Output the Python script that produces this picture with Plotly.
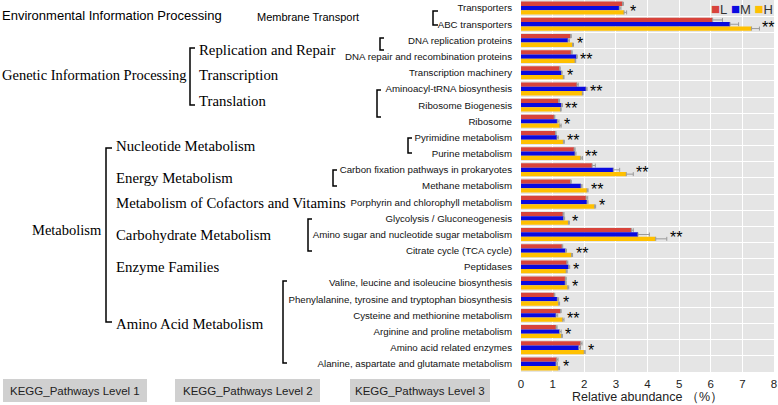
import plotly.graph_objects as go

categories = [
    "Transporters", "ABC transporters", "DNA replication proteins",
    "DNA repair and recombination proteins", "Transcription machinery",
    "Aminoacyl-tRNA biosynthesis", "Ribosome Biogenesis", "Ribosome",
    "Pyrimidine metabolism", "Purine metabolism",
    "Carbon fixation pathways in prokaryotes", "Methane metabolism",
    "Porphyrin and chlorophyll metabolism", "Glycolysis / Gluconeogenesis",
    "Amino sugar and nucleotide sugar metabolism", "Citrate cycle (TCA cycle)",
    "Peptidases", "Valine, leucine and isoleucine biosynthesis",
    "Phenylalanine, tyrosine and tryptophan biosynthesis",
    "Cysteine and methionine metabolism", "Arginine and proline metabolism",
    "Amino acid related enzymes", "Alanine, aspartate and glutamate metabolism",
]
L_vals = [3.21, 6.06, 1.57, 1.59, 1.22, 1.77, 1.19, 1.05, 1.09, 1.68, 2.25, 1.57,
          2.06, 1.33, 3.49, 1.30, 1.45, 1.40, 1.05, 1.25, 1.11, 1.89, 1.13]
M_vals = [3.11, 6.61, 1.49, 1.76, 1.28, 2.06, 1.28, 1.15, 1.14, 1.71, 2.92, 1.90,
          2.09, 1.35, 3.70, 1.41, 1.51, 1.40, 1.15, 1.11, 1.22, 1.83, 1.11]
H_vals = [3.26, 7.29, 1.63, 1.71, 1.34, 1.94, 1.25, 1.23, 1.34, 1.89, 3.33, 2.09,
          2.33, 1.50, 4.26, 1.60, 1.43, 1.48, 1.19, 1.32, 1.28, 2.00, 1.18]
L_err = [0.03, 0.31, 0.02, 0.03, 0.02, 0.04, 0.03, 0.02, 0.02, 0.03, 0.10, 0.02,
         0.05, 0.03, 0.06, 0.02, 0.03, 0.03, 0.02, 0.02, 0.03, 0.04, 0.04]
M_err = [0.05, 0.27, 0.04, 0.02, 0.02, 0.03, 0.03, 0.05, 0.04, 0.03, 0.20, 0.03,
         0.03, 0.03, 0.36, 0.03, 0.03, 0.03, 0.04, 0.05, 0.05, 0.05, 0.04]
H_err = [0.08, 0.25, 0.03, 0.02, 0.02, 0.02, 0.02, 0.04, 0.03, 0.05, 0.22, 0.03,
         0.03, 0.03, 0.35, 0.03, 0.03, 0.03, 0.03, 0.04, 0.03, 0.03, 0.04]
signif = ["*", "**", "*", "**", "*", "**", "**", "*", "**", "**", "**", "**",
          "*", "*", "**", "**", "*", "*", "*", "**", "*", "*", "*"]
x_ticks = [0, 1, 2, 3, 4, 5, 6, 7, 8]
series_names = ["L", "M", "H"]

level1 = [("Environmental Information Processing", 16, "sans"),
          ("Genetic Information Processing", 75, "serif"),
          ("Metabolism", 230, "serif")]
level2 = [("Replication and Repair", 50), ("Transcription", 75), ("Translation", 101),
          ("Nucleotide Metabolism", 146), ("Energy Metabolism", 178),
          ("Metabolism of Cofactors and Vitamins", 203), ("Carbohydrate Metabolism", 235),
          ("Enzyme Families", 267), ("Amino Acid Metabolism", 324)]
bottom_labels = ["KEGG_Pathways Level 1", "KEGG_Pathways Level 2", "KEGG_Pathways Level 3"]

colors = {"L": "#D8433B", "M": "#0A0AE0", "H": "#FFC000"}

PL, PR, PT, PB = 521, 774, 0, 372


def px(x):
    return (x - PL) / (PR - PL)


def py(y):
    return 1 - (y - PT) / (PB - PT)


fig = go.Figure()
for name, vals, errs in zip(series_names, [L_vals, M_vals, H_vals], [L_err, M_err, H_err]):
    fig.add_trace(go.Bar(
        y=categories, x=vals, name=name, orientation="h",
        marker=dict(color=colors[name], line=dict(width=0)),
        error_x=dict(type="data", array=errs, arrayminus=[0] * len(errs), symmetric=False,
                     color="#9a9a9a", thickness=1, width=2),
    ))

for i, c in enumerate(categories):
    end = max(L_vals[i] + L_err[i], M_vals[i] + M_err[i], H_vals[i] + H_err[i])
    fig.add_annotation(x=end, y=c, text=signif[i], showarrow=False, xanchor="left",
                       xshift=1, yshift=-3, font=dict(size=16, color="black", family="Liberation Sans"))

n = len(categories)
fig.update_layout(
    width=778, height=405,
    margin=dict(l=PL, r=778 - PR, t=PT, b=405 - PB),
    paper_bgcolor="white", plot_bgcolor="#E5E5E5",
    barmode="group", bargap=0.2, bargroupgap=0,
    font=dict(family="Liberation Sans", color="black"),
    showlegend=False,
    xaxis=dict(range=[0, 8], tickvals=x_ticks, showgrid=True, gridcolor="white", gridwidth=1,
               zeroline=False, showline=False, ticks="", tickfont=dict(size=11.5, color="#222"),
               ticklabelstandoff=3,
               title=dict(text="Relative abundance （%）", font=dict(size=12.5, color="#222"), standoff=1)),
    yaxis=dict(categoryorder="array", categoryarray=categories, range=[n - 0.5, -0.5],
               tickson="boundaries", showgrid=True, gridcolor="white", gridwidth=1,
               ticks="", showline=False, tickfont=dict(size=9.7, color="#111"), ticklabelstandoff=8),
)

# legend drawn as text (compact, top right, inside plot)
leg_text = "&nbsp;".join(
    f"<span style='color:{colors[s]};font-size:15px'>■</span>{s}" for s in series_names)
fig.add_annotation(xref="paper", yref="paper", x=px(775), y=py(9), xanchor="right", yanchor="middle",
                   text=leg_text, showarrow=False, font=dict(size=13, color="#333", family="Liberation Sans"))

# Level 1 labels
for text, y, kind in level1:
    fam = "Liberation Sans" if kind == "sans" else "Liberation Serif"
    size = 13 if kind == "sans" else 14.5
    x = 0 if text != "Metabolism" else 30
    fig.add_annotation(xref="paper", yref="paper", x=px(x), y=py(y),
                       xanchor="left", yanchor="middle", text=text, showarrow=False,
                       font=dict(family=fam, size=size, color="black"))
fig.add_annotation(xref="paper", yref="paper", x=px(255), y=py(17),
                   xanchor="left", yanchor="middle", text="Membrane Transport", showarrow=False,
                   font=dict(family="Liberation Sans", size=11, color="black"))

# Level 2 labels
for text, y in level2:
    x = 197 if y < 110 else 114
    fig.add_annotation(xref="paper", yref="paper", x=px(x), y=py(y),
                       xanchor="left", yanchor="middle", text=text, showarrow=False,
                       font=dict(family="Liberation Serif", size=14.8, color="black"))

# Brackets
brackets = [(190, 48, 105, 5), (106, 148, 322, 6), (433, 11, 25, 5), (380, 38, 50, 4),
            (377, 90, 117, 4), (408, 138, 153, 4), (333, 170, 186, 4), (308, 219, 251, 4),
            (283, 281, 363, 4)]
for bx, y0, y1, w in brackets:
    fig.add_shape(type="path", xref="paper", yref="paper",
                  path=f"M {px(bx + w)} {py(y0)} L {px(bx)} {py(y0)} L {px(bx)} {py(y1)} L {px(bx + w)} {py(y1)}",
                  line=dict(color="black", width=1.5))

# Bottom gray boxes
box_x = [(3, 147), (175, 320), (350, 490)]
for (x0, x1), lab in zip(box_x, bottom_labels):
    fig.add_shape(type="rect", xref="paper", yref="paper", x0=px(x0), x1=px(x1),
                  y0=py(402), y1=py(379), fillcolor="#D0D0D0", line=dict(width=0))
    fig.add_annotation(xref="paper", yref="paper", x=px((x0 + x1) / 2), y=py(391),
                       text=lab, showarrow=False, xanchor="center", yanchor="middle",
                       font=dict(family="Liberation Sans", size=11.5, color="#222"))

fig.write_html("out.html", config={"displayModeBar": False},
               post_script="document.body.style.margin='0';")
